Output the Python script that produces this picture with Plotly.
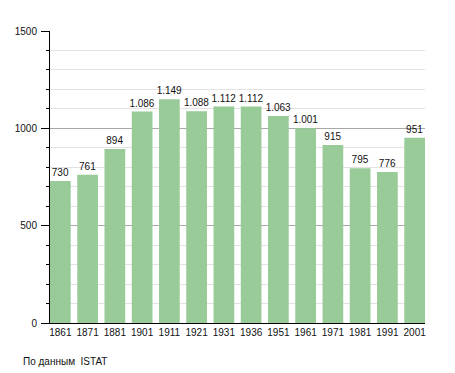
import plotly.graph_objects as go

years = ["1861", "1871", "1881", "1901", "1911", "1921", "1931", "1936",
         "1951", "1961", "1971", "1981", "1991", "2001"]
population = [730, 761, 894, 1086, 1149, 1088, 1112, 1112, 1063, 1001, 915, 795, 776, 951]
y_ticks = [0, 500, 1000, 1500]
source_note = "По данным\u00a0\u00a0ISTAT"


def fmt(v):
    return f"{v:,}".replace(",", ".")


labels = [fmt(v) for v in population]
positions = list(range(len(years)))

FONT = "Liberation Sans, Arial, sans-serif"

fig = go.Figure(go.Bar(
    x=positions,
    y=population,
    width=0.76,
    text=labels,
    textposition="outside",
    constraintext="none",
    cliponaxis=False,
    textfont=dict(family=FONT, size=10, color="#111"),
    marker=dict(color="#98cb98", line=dict(width=0)),
    hoverinfo="skip",
))

# page body has an 8px margin; the figure is sized/margined to compensate
fig.update_layout(
    width=447, height=365,
    margin=dict(l=42, r=30, t=23, b=50, autoexpand=False),
    paper_bgcolor="white", plot_bgcolor="white",
    font=dict(family=FONT, size=10, color="#111"),
    showlegend=False,
    xaxis=dict(
        range=[-0.38, len(years) - 1 + 0.38],
        tickmode="array", tickvals=positions, ticktext=years,
        showgrid=False, zeroline=False, automargin=False,
        showline=True, linecolor="black", linewidth=1,
        ticks="", tickfont=dict(size=10, color="#111"),
    ),
    yaxis=dict(
        range=[0, 1500],
        tickmode="array", tickvals=y_ticks,
        ticks="outside", ticklen=8, tickcolor="black", tickwidth=1,
        ticklabelstandoff=2, automargin=False,
        showline=True, linecolor="black", linewidth=1,
        gridcolor="#a8a8a8", gridwidth=1,
        zeroline=False,
        tickfont=dict(size=10, color="#111"),
        minor=dict(dtick=100, ticks="outside", ticklen=3, tickcolor="black",
                   showgrid=True, gridcolor="#e2e2e2", gridwidth=1),
    ),
    annotations=[dict(
        text=source_note, xref="paper", yref="paper",
        x=(20.5 - 50) / 375, y=(323 - 361) / 292,
        xanchor="left", yanchor="middle", showarrow=False,
        font=dict(family=FONT, size=10, color="#111"),
    )],
)

fig.write_html("out.html")
